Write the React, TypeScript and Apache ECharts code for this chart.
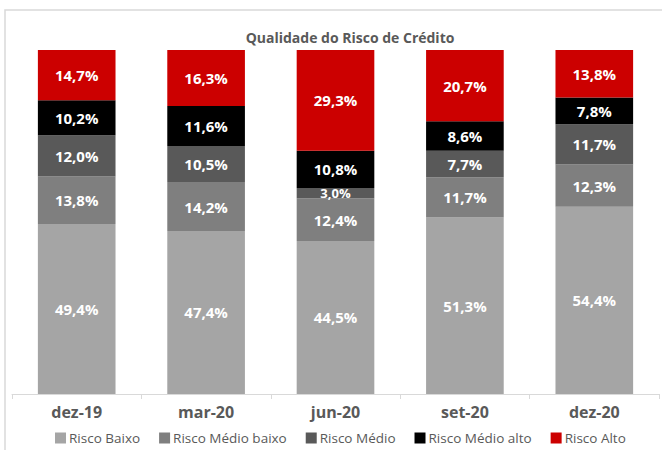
import React, { useEffect, useRef } from "react";
import * as echarts from "echarts";

const categories = ["dez-19", "mar-20", "jun-20", "set-20", "dez-20"];
const seriesNames = ["Risco Baixo", "Risco Médio baixo", "Risco Médio", "Risco Médio alto", "Risco Alto"];
const riscoBaixo = [49.4, 47.4, 44.5, 51.3, 54.4];
const riscoMedioBaixo = [13.8, 14.2, 12.4, 11.7, 12.3];
const riscoMedio = [12.0, 10.5, 3.0, 7.7, 11.7];
const riscoMedioAlto = [10.2, 11.6, 10.8, 8.6, 7.8];
const riscoAlto = [14.7, 16.3, 29.3, 20.7, 13.8];
const colors = ["#A5A5A5", "#7F7F7F", "#595959", "#000000", "#CC0000"];

const FONT = "'Open Sans', sans-serif";

export default function App() {
  const ref = useRef<HTMLDivElement>(null);
  useEffect(() => {
    if (!ref.current) return;
    const chart = echarts.init(ref.current, undefined, { renderer: "svg" });
    const all = [riscoBaixo, riscoMedioBaixo, riscoMedio, riscoMedioAlto, riscoAlto];
    const series = all.map((vals, i) => ({
      name: seriesNames[i],
      type: "bar",
      stack: "total",
      barCategoryGap: "40%",
      itemStyle: { color: colors[i] },
      label: {
        show: true,
        position: "inside",
        color: "#FFFFFF",
        fontFamily: FONT,
        fontWeight: "bold",
        fontSize: 15,
        formatter: (p: any) => p.value.toFixed(1).replace(".", ",") + "%",
      },
      data: vals.map((v) =>
        v < 5 ? { value: v, label: { fontSize: 13 } } : { value: v }
      ),
    }));
    chart.setOption({
      animation: false,
      title: {
        text: "Qualidade do Risco de Crédito",
        left: 345,
        textAlign: "center",
        top: 25,
        textStyle: { fontFamily: FONT, fontWeight: "bold", fontSize: 14, color: "#595959" },
      },
      graphic: [
        {
          type: "rect",
          shape: { x: 5, y: 10, width: 720, height: 500 },
          style: { fill: "none", stroke: "#D9D9D9", lineWidth: 1.5 },
          silent: true,
        },
      ],
      legend: {
        left: 50,
        top: 426,
        itemWidth: 11,
        itemHeight: 11,
        itemGap: 19,
        icon: "rect",
        textStyle: { fontFamily: FONT, fontSize: 13.5, color: "#595959", padding: [0, 0, 0, -2] },
        data: seriesNames,
      },
      grid: { left: 12, right: 3, top: 50, bottom: 56, containLabel: false },
      xAxis: {
        type: "category",
        data: categories,
        axisLine: { lineStyle: { color: "#D9D9D9", width: 1 } },
        axisTick: { show: true, length: 5, lineStyle: { color: "#D9D9D9" } },
        axisLabel: {
          margin: 10,
          fontFamily: FONT,
          fontWeight: "bold",
          fontSize: 16,
          color: "#595959",
        },
      },
      yAxis: {
        type: "value",
        min: 0,
        max: 100,
        show: false,
        splitLine: { show: false },
      },
      series,
    });
    return () => chart.dispose();
  }, []);
  return (
    <div
      ref={ref}
      style={{ position: "fixed", left: 0, top: 0, width: 662, height: 450, background: "#FFFFFF" }}
    />
  );
}
